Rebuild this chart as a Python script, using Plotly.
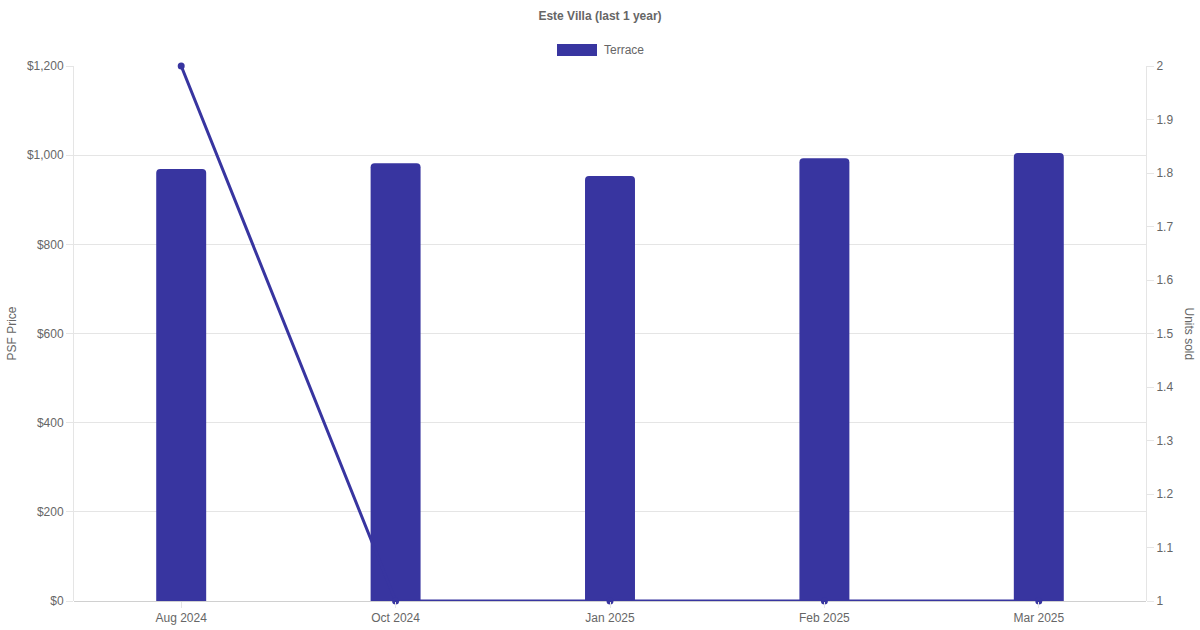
import plotly.graph_objects as go

categories = ["Aug 2024", "Oct 2024", "Jan 2025", "Feb 2025", "Mar 2025"]
psf_price = [969, 982, 953, 993, 1005]
units_sold = [2, 1, 1, 1, 1]
left_ticks = [0, 200, 400, 600, 800, 1000, 1200]
left_tick_labels = ["$0", "$200", "$400", "$600", "$800", "$1,000", "$1,200"]
right_ticks = [1, 1.1, 1.2, 1.3, 1.4, 1.5, 1.6, 1.7, 1.8, 1.9, 2]
right_tick_labels = ["1", "1.1", "1.2", "1.3", "1.4", "1.5", "1.6", "1.7", "1.8", "1.9", "2"]

COLOR = "#3835A0"
GRID = "#e5e5e5"
TXT = "#666666"
FONT = "Liberation Sans, Arial, sans-serif"

fig = go.Figure()
fig.add_trace(go.Bar(
    x=categories, y=psf_price, name="Terrace",
    marker=dict(color=COLOR, line=dict(width=0)),
    width=0.233, showlegend=False, yaxis="y",
))
fig.add_trace(go.Scatter(
    x=categories, y=units_sold, mode="lines+markers",
    line=dict(color=COLOR, width=3), marker=dict(color=COLOR, size=7),
    showlegend=False, yaxis="y2", cliponaxis=False,
))

fig.update_layout(
    width=1200, height=630,
    margin=dict(l=74, r=54, t=66, b=29, autoexpand=False),
    paper_bgcolor="white", plot_bgcolor="white",
    font=dict(family=FONT, size=12, color=TXT),
    barcornerradius=4,
    title=dict(text="<b>Este Villa (last 1 year)</b>", x=0.5, xanchor="center",
               y=1 - 16 / 630, yanchor="middle", font=dict(size=12, color=TXT)),
    xaxis=dict(type="category", showgrid=False, showline=False, ticks="outside",
               ticklen=6, tickcolor=GRID, tickfont=dict(size=12, color=TXT),
               zeroline=False, automargin=False, color=TXT),
    yaxis=dict(range=[0, 1200], tickvals=left_ticks, ticktext=left_tick_labels,
               showgrid=True, gridcolor=GRID, gridwidth=1, showline=True,
               linecolor=GRID, ticks="outside", ticklen=7, tickcolor=GRID,
               zeroline=True, zerolinecolor="#d0d0d0", zerolinewidth=1,
               tickfont=dict(size=12, color=TXT), automargin=False, color=TXT),
    yaxis2=dict(range=[1, 2], tickvals=right_ticks, ticktext=right_tick_labels,
                overlaying="y", side="right", showgrid=False, showline=True,
                linecolor=GRID, ticks="outside", ticklen=7, tickcolor=GRID,
                zeroline=False, tickfont=dict(size=12, color=TXT), automargin=False,
                color=TXT),
)

px = lambda X: (X - 74) / 1072
py = lambda Y: (601 - Y) / 535

# Axis titles
fig.add_annotation(text="PSF Price", xref="paper", yref="paper", x=px(11),
                   y=0.5, textangle=-90, showarrow=False, xanchor="center", yanchor="middle",
                   font=dict(size=12, color=TXT))
fig.add_annotation(text="Units sold", xref="paper", yref="paper", x=px(1189),
                   y=0.5, textangle=90, showarrow=False, xanchor="center", yanchor="middle",
                   font=dict(size=12, color=TXT))

# Legend (box + label)
fig.add_shape(type="rect", xref="paper", yref="paper", x0=px(557), x1=px(597),
              y0=py(56), y1=py(44), fillcolor=COLOR, line=dict(width=0))
fig.add_annotation(text="Terrace", xref="paper", yref="paper", x=px(602), y=py(50),
                   xanchor="left", yanchor="middle", showarrow=False,
                   font=dict(size=12, color=TXT))

fig.write_html("out.html", config={"displayModeBar": False},
               post_script="document.body.style.margin='0';document.body.style.padding='0';")
